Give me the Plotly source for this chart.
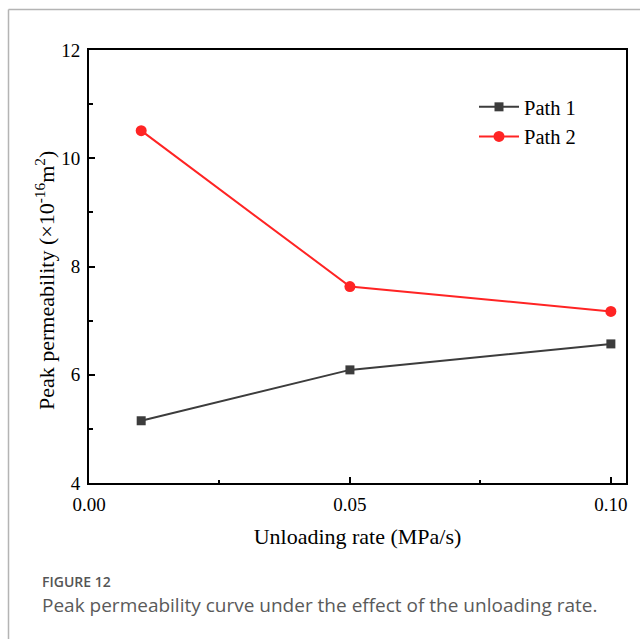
import plotly.graph_objects as go

rates = [0.01, 0.05, 0.10]
path1 = [5.15, 6.09, 6.57]
path2 = [10.51, 7.63, 7.17]
series_names = ["Path 1", "Path 2"]
x_ticks = [0.00, 0.05, 0.10]
x_tick_labels = ["0.00", "0.05", "0.10"]
y_ticks = [4, 6, 8, 10, 12]

W, H = 640, 639
L, R, T, B = 89, 14, 50, 156
pw, ph = W - L - R, H - T - B

def px2paper_x(px):
    return (px - L) / pw

def px2paper_y(py):
    return (H - B - py) / ph

serif = "Liberation Serif, Times New Roman, serif"
sans = "Open Sans, Noto Sans, sans-serif"

fig = go.Figure()
fig.add_trace(go.Scatter(
    x=rates, y=path1, name=series_names[0], mode="lines+markers",
    line=dict(color="#3c3c3c", width=2),
    marker=dict(symbol="square", size=9, color="#3c3c3c"),
))
fig.add_trace(go.Scatter(
    x=rates, y=path2, name=series_names[1], mode="lines+markers",
    line=dict(color="#ff2424", width=2),
    marker=dict(symbol="circle", size=11, color="#ff2424"),
))

axis_common = dict(
    showline=True, linecolor="black", linewidth=2, mirror=True,
    ticks="inside", ticklen=6, tickwidth=1.5, tickcolor="black",
    showgrid=False, zeroline=False,
    tickfont=dict(family=serif, size=19, color="black"),
)

fig.update_xaxes(
    range=[0, 0.1029], tickvals=x_ticks, ticktext=x_tick_labels, ticklabelstandoff=3,
    title=dict(text="Unloading rate (MPa/s)", font=dict(family=serif, size=22, color="black"), standoff=15),
    minor=dict(ticks="inside", ticklen=3.5, tickwidth=1.5, tickcolor="black", dtick=0.025, tick0=0),
    **axis_common,
)
fig.update_yaxes(
    range=[4, 12], tickvals=y_ticks, ticklabelstandoff=3,
    minor=dict(ticks="inside", ticklen=3.5, tickwidth=1.5, tickcolor="black", dtick=1, tick0=0),
    **axis_common,
)

fig.update_layout(
    width=W, height=H,
    margin=dict(l=L, r=R, t=T, b=B, autoexpand=False),
    paper_bgcolor="white", plot_bgcolor="white",
    showlegend=True,
    legend=dict(
        x=px2paper_x(474), y=px2paper_y(87), xanchor="left", yanchor="top",
        bgcolor="rgba(0,0,0,0)", font=dict(family=serif, size=20.5, color="black"),
        itemwidth=40, tracegroupgap=0,
    ),
)

# y-axis title placed as rotated annotation
fig.add_annotation(xref="paper", yref="paper", x=px2paper_x(45), y=px2paper_y(281),
                   xanchor="center", yanchor="middle", showarrow=False, textangle=-90,
                   text="Peak permeability (×10<sup>-16</sup>m<sup>2</sup>)",
                   font=dict(family=serif, size=22, color="black"))

# card frame (top and left borders)
fig.add_shape(type="line", xref="paper", yref="paper",
              x0=px2paper_x(8.5), x1=px2paper_x(645), y0=px2paper_y(9.5), y1=px2paper_y(9.5),
              line=dict(color="#b4b4b4", width=1.5), layer="above")
fig.add_shape(type="line", xref="paper", yref="paper",
              x0=px2paper_x(8.5), x1=px2paper_x(8.5), y0=px2paper_y(9.5), y1=px2paper_y(645),
              line=dict(color="#b4b4b4", width=1.5), layer="above")

fig.add_annotation(xref="paper", yref="paper", x=px2paper_x(40), y=px2paper_y(581),
                   xanchor="left", yanchor="middle", showarrow=False,
                   text="FIGURE 12", font=dict(family=sans, size=14, color="#555555", weight=600))
fig.add_annotation(xref="paper", yref="paper", x=px2paper_x(40), y=px2paper_y(605),
                   xanchor="left", yanchor="middle", showarrow=False,
                   text="Peak permeability curve under the effect of the unloading rate.",
                   font=dict(family=sans, size=19, color="#5a5a5a"))

fig.write_html("out.html")
